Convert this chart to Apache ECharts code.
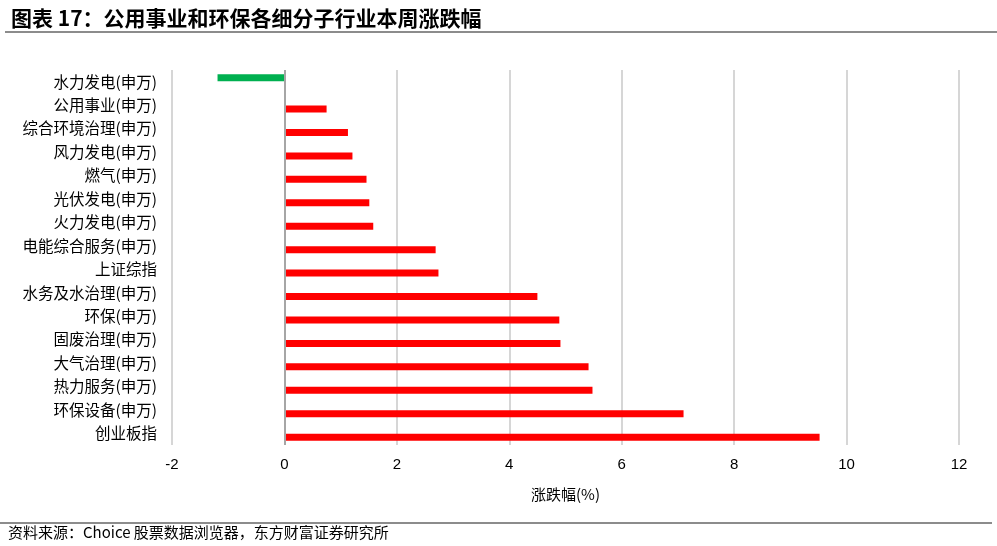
<!DOCTYPE html>
<html lang="zh">
  <head>
    <meta charset="UTF-8" />
    <title>公用事业和环保各细分子行业本周涨跌幅</title>
    <script src="https://cdn.jsdelivr.net/npm/echarts@6/dist/echarts.min.js"></script>
    <style>
      html, body { margin: 0; padding: 0; background: #fff; }
      #chart { width: 997px; height: 546px; }
    </style>
  </head>
  <body>
    <div id="chart"></div>
  </body>
</html>
<script>
  // 行业名称（从上到下）
  const categories = [
    "水力发电(申万)", "公用事业(申万)", "综合环境治理(申万)", "风力发电(申万)",
    "燃气(申万)", "光伏发电(申万)", "火力发电(申万)", "电能综合服务(申万)",
    "上证综指", "水务及水治理(申万)", "环保(申万)", "固废治理(申万)",
    "大气治理(申万)", "热力服务(申万)", "环保设备(申万)", "创业板指"
  ];
  // 上涨（红色）
  const upValues = ["-", 0.75, 1.13, 1.21, 1.46, 1.51, 1.58, 2.69, 2.74, 4.50, 4.89, 4.91, 5.41, 5.48, 7.10, 9.52];
  // 下跌（绿色）
  const downValues = [-1.19, "-", "-", "-", "-", "-", "-", "-", "-", "-", "-", "-", "-", "-", "-", "-"];
  const xTicks = [-2, 12, 2]; // min, max, interval

  const chart = echarts.init(document.getElementById("chart"));
  const cjk = '"Noto Sans CJK SC", sans-serif';

  chart.setOption({
    animation: false,
    backgroundColor: "#fff",
    title: {
      text: "图表 17：公用事业和环保各细分子行业本周涨跌幅",
      left: 6,
      top: 3,
      textStyle: { fontFamily: cjk, fontSize: 21, fontWeight: "bold", color: "#000" }
    },
    graphic: [
      { type: "rect", shape: { x: 5, y: 31, width: 992, height: 2 }, style: { fill: "#8c8c8c" } },
      { type: "rect", shape: { x: 0, y: 522, width: 992, height: 2 }, style: { fill: "#8c8c8c" } },
      {
        type: "text", left: 8, top: 525,
        style: { text: "资料来源：Choice 股票数据浏览器，东方财富证券研究所", font: '15px "Noto Sans CJK SC"', fill: "#000" }
      }
    ],
    grid: { left: 172, right: 38, top: 70, height: 375, containLabel: false },
    xAxis: {
      type: "value",
      min: xTicks[0],
      max: xTicks[1],
      interval: xTicks[2],
      name: "涨跌幅(%)",
      nameLocation: "middle",
      nameGap: 42,
      nameTextStyle: { fontFamily: cjk, fontSize: 15, color: "#000" },
      axisLine: { show: false },
      axisTick: { show: false },
      axisLabel: { fontFamily: "Liberation Sans", fontSize: 15, color: "#000", margin: 12 },
      splitLine: { lineStyle: { color: "#c8c8c8", width: 1.5 } }
    },
    yAxis: {
      type: "category",
      inverse: true,
      data: categories,
      axisLine: { show: false },
      axisTick: { show: false },
      axisLabel: { fontFamily: cjk, fontSize: 15.5, color: "#000", margin: 15 }
    },
    series: [
      {
        type: "bar",
        data: downValues,
        barWidth: 7,
        barGap: "10%",
        itemStyle: { color: "#00b050" },
        markLine: {
          silent: true,
          symbol: "none",
          label: { show: false },
          lineStyle: { color: "#a6a6a6", width: 2, type: "solid" },
          data: [{ xAxis: 0 }]
        }
      },
      {
        type: "bar",
        data: upValues,
        barWidth: 7,
        barGap: "10%",
        itemStyle: { color: "#ff0000" }
      }
    ]
  });
</script>
